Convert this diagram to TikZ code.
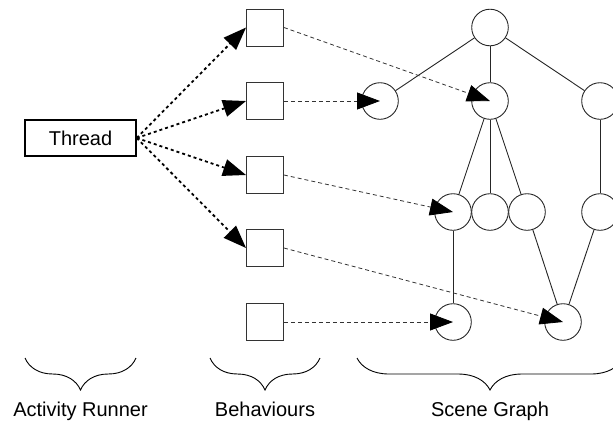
\documentclass[tikz,border=0pt]{standalone}
\usepackage{fontspec}
\setmainfont{Liberation Sans}
\usetikzlibrary{arrows.meta}
\usetikzlibrary{positioning}
\usetikzlibrary{decorations.pathreplacing}

\begin{document}
\begin{tikzpicture}[x=1pt,y=-1pt,>={Triangle[length=23pt,width=17pt,color=black]},
			font=\fontsize{20}{24}\selectfont]
			\tikzstyle{behaviour}=[draw=black!80,line width=0.9pt,minimum size=37pt,inner sep=0pt]
			\tikzstyle{scene}=[circle,draw=black!85,line width=0.9pt,minimum size=36.6pt,inner sep=0pt]
			\tikzstyle{runs}=[->,line width=1.8pt,dash pattern=on 3pt off 3pt]
			\tikzstyle{binds}=[->,line width=0.8pt,draw=black!80,dash pattern=on 4pt off 3pt]
			\tikzstyle{link}=[line width=0.9pt,draw=black!85]
			\tikzstyle{group}=[decorate,decoration={brace,mirror,amplitude=32pt},line width=0.9pt]
			
			\useasboundingbox (0,0) rectangle (613,421);
			
			\node[draw,line width=1.4pt,minimum width=111pt,minimum height=36pt,inner sep=0pt] (thread) at (80.5,138) {Thread};
			
			\node[behaviour] (b1) at (265,27.5) {};
			\node[behaviour] (b2) at (265,101)  {};
			\node[behaviour] (b3) at (265,175)  {};
			\node[behaviour] (b4) at (265,248)  {};
			\node[behaviour] (b5) at (265,322)  {};
			
			\node[scene] (root) at (490,27.5) {};
			\node[scene] (left) at (380,101)  {};
			\node[scene] (mid)  at (490,101)  {};
			\node[scene] (right) at (600,101) {};
			\node[scene] (a) at (453,212) {};
			\node[scene] (b) at (490,212) {};
			\node[scene] (c) at (527,212) {};
			\node[scene] (d) at (600,212) {};
			\node[scene] (e) at (453,322) {};
			\node[scene] (f) at (563,322) {};
			
			\path[link] (root) edge (left)
			(root) edge (mid)
			(root) edge (right)
			(mid) edge (a)
			(mid) edge (b)
			(mid) edge (c)
			(right) edge (d)
			(a) edge (e)
			(c) edge (f)
			(d) edge (f);
			
			\draw[binds] (b1.east) -- (mid.center);
			\draw[binds] (b2.east) -- (left.center);
			\draw[binds] (b3.east) -- (a.center);
			\draw[binds] (b4.east) -- (f.center);
			\draw[binds] (b5.east) -- (e.center);
			
			\foreach \b in {b1,b2,b3,b4}
			\draw[runs] (thread.east) -- (\b.west);
			
			\draw[group] (25,358) -- (136,358);
			\draw[group] (210,358) -- (320,358);
			\draw[group] (357,358) -- (623,358);
			
			\node[anchor=base] (runner) at (80.5,416) {Activity Runner};
			\node[anchor=base] (behaviours) at (265,416) {Behaviours};
			\node[anchor=base] (graph) at (490,416) {Scene Graph};
			
\end{tikzpicture}
\end{document}
